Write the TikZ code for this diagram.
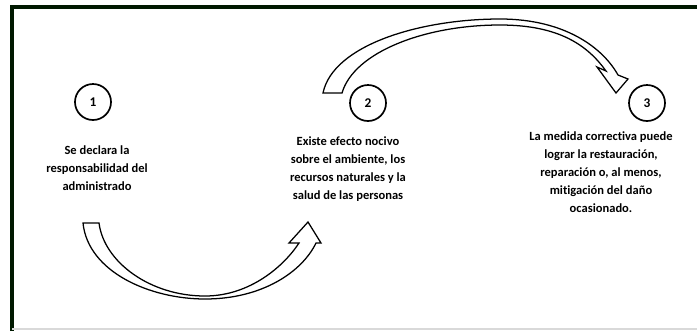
\documentclass[tikz,border=0pt]{standalone}
\usepackage{fontspec}
\setmainfont[Ligatures=NoCommon]{Carlito}
\usepackage{tikz}
\tikzset{>=latex}
\usepackage{xcolor}
\colorlet{framecol}{black!90!green}
\tikzstyle{stepnum}=[draw,circle,line width=1.2pt,minimum size=0.9cm,inner sep=0pt,font=\bfseries\fontsize{9.5}{10}\selectfont]
\tikzstyle{steptext}=[align=center,font=\bfseries\fontsize{8.9}{12.8}\selectfont]
\tikzstyle{blockarrow}=[draw,fill=white,line width=0.9pt,line join=miter]

\begin{document}
\begin{tikzpicture}[x=0.025cm,y=-0.025cm]
  \useasboundingbox (0,0) rectangle (697,331);
  % frame
  \draw[framecol,line width=2.4pt] (12,331) -- (12,7) -- (697,7);
  \draw[black!15,line width=0.8pt] (12,329) -- (697,329);

  % steps
  \node[stepnum] (n1) at (93,102) {1};
  \node[stepnum] (n2) at (368,103) {2};
  \node[stepnum] (n3) at (647,103) {3};
  \node[steptext] (t1) at (97,168) {Se declara la\\responsabilidad del\\administrado};
  \node[steptext] (t2) at (348,169) {Existe efecto nocivo\\sobre el ambiente, los\\recursos naturales y la\\salud de las personas};
  \node[steptext] (t3) at (601,172) {La medida correctiva puede\\lograr la restauraci\'on,\\reparaci\'on o, al menos,\\mitigaci\'on del da\~no\\ocasionado.};

  % bottom arrow, 1 to 2
  \coordinate (b1) at (83,223);
  \coordinate (b2) at (99,223);
  \coordinate (bt) at (308,222);
  \draw[blockarrow] (b1) .. controls (88,272) and (150,299) .. (205,299)
    .. controls (262,299) and (302,272) .. (316,243) -- (321,243) -- (bt)
    -- (289,243) -- (299,243) .. controls (284,266) and (250,296) .. (205,296)
    .. controls (150,296) and (104,262) .. (b2) -- cycle;

  % top arrow, 2 to 3
  \coordinate (a1) at (323,93);
  \coordinate (a2) at (342,93);
  \coordinate (at) at (616,93);
  \draw[blockarrow] (a1) .. controls (333,45) and (420,19) .. (500,19)
    .. controls (565,19) and (603,48) .. (618,75) -- (628,79) -- (at)
    -- (597,67) -- (606,71) .. controls (588,46) and (560,25) .. (500,25)
    .. controls (425,25) and (354,52) .. (a2) -- cycle;
\end{tikzpicture}
\end{document}
